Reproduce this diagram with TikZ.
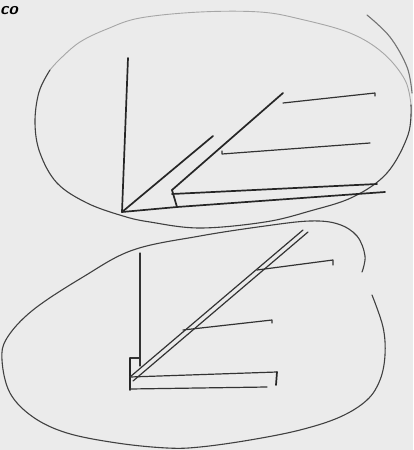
\documentclass[tikz,border=0pt]{standalone}
\begin{document}
\begin{tikzpicture}[x=1pt,y=-1pt,
  ink/.style={draw=black!85,line width=1.7pt,line cap=round,line join=round},
  thin ink/.style={draw=black!80,line width=1.2pt,line cap=round,line join=round},
  outline/.style={draw=black!75,line width=1.1pt,line cap=round},
  faint/.style={draw=black!35,line width=0.9pt,line cap=round}]
\fill[black!8] (0,0) rectangle (413,450);
\useasboundingbox (0,0) rectangle (413,450);
% label
\node[anchor=west,inner sep=0pt,font=\fontsize{17}{17}\selectfont\sffamily\bfseries\itshape] (lbl) at (0,11) {co};
% upper ellipse: faint top, dark remainder, extra stroke
\draw[faint] plot[smooth,tension=0.6] coordinates {
 (50,70) (60,59) (80,42) (107,29) (140,18) (200,12) (260,12) (300,19)
 (350,33) (383,53) (405,80) (411,105)};
\draw[outline] plot[smooth,tension=0.6] coordinates {
 (411,105) (408,135) (387,173) (353,197) (310,211) (265,222) (200,228)
 (150,222) (123,216) (87,203) (57,183) (40,153) (35,123) (39,92) (50,70)};
\draw[outline,draw=black!55] plot[smooth,tension=0.6] coordinates {
 (367,15) (390,37) (407,67) (412,93)};
% upper figure
\coordinate (O1) at (122,212);
\coordinate (V1) at (128,58);
\coordinate (D1) at (213,136);
\coordinate (B1) at (172,190);
\coordinate (D2) at (283,93);
\coordinate (C1) at (177,207);
\draw[ink] (O1) -- (V1);
\draw[ink] (O1) -- (D1);
\draw[ink] (B1) -- (D2);
\draw[ink] (O1) -- (C1) -- (385,192);
\draw[ink] (B1) -- (C1);
\draw[ink] (B1) ++(0,4) -- (377,184);
\draw[thin ink] (283,103) -- (375,93) -- (375,96);
\draw[thin ink] (222,154) -- (222,151) (222,154) -- (370,143);
% lower blob
\draw[outline] plot[smooth,tension=0.6] coordinates {
 (372,295) (383,327) (385,355) (380,380) (367,400) (340,417) (300,430)
 (250,440) (200,447) (167,448) (117,443) (67,433) (33,417) (10,393)
 (2,360) (7,338) (33,310) (83,277) (133,250) (200,236) (265,226) (310,221)
 (338,224) (357,236) (365,256) (362,272)};
% lower figure
\coordinate (O2) at (130,377);
\coordinate (V2) at (140,253);
\draw[thin ink] (140,363) -- (V2);
\draw[thin ink] (130,358) -- (140,358) -- (140,366);
\draw[ink] (130,358) -- (130,390);
\draw[thin ink] (O2) -- (303,230);
\draw[thin ink] (133,381) -- (308,232);
\draw[thin ink] (257,270) -- (333,260) -- (333,265);
\draw[thin ink] (183,330) -- (272,320) -- (272,323);
\draw[thin ink] (O2) -- (277,372);
\draw[ink] (277,372) -- (276,385);
\draw[thin ink] (130,389) -- (267,387);
\end{tikzpicture}
\end{document}
